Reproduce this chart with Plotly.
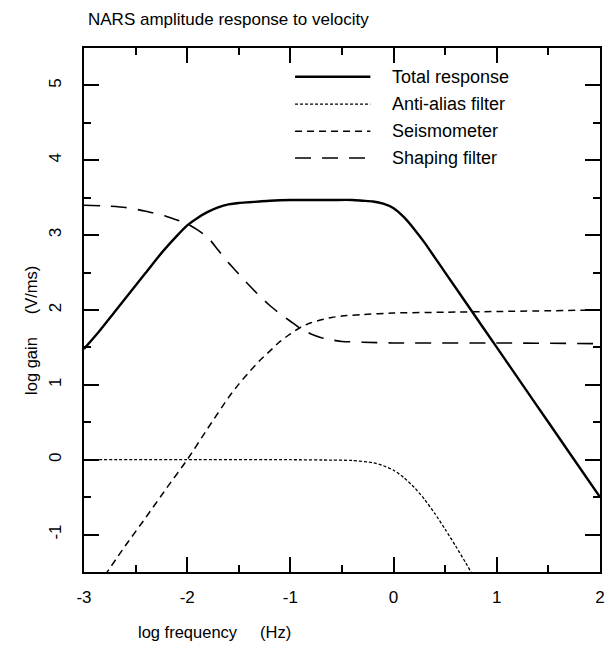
import plotly.graph_objects as go

# ---- data ----
x_total = [-3.0, -2.85, -2.7, -2.55, -2.4, -2.25, -2.1, -2.0, -1.9, -1.8, -1.7, -1.6, -1.5,
           -1.4, -1.3, -1.2, -1.0, -0.8, -0.6, -0.4, -0.3, -0.2, -0.1, 0.0, 0.1, 0.2, 0.3,
           0.4, 0.5, 0.75, 1.0, 1.25, 1.5, 1.75, 2.0]
y_total = [1.48, 1.72, 1.98, 2.24, 2.50, 2.76, 2.99, 3.13, 3.23, 3.31, 3.37, 3.41, 3.43,
           3.44, 3.45, 3.46, 3.47, 3.47, 3.47, 3.47, 3.46, 3.45, 3.42, 3.36, 3.24, 3.08, 2.90,
           2.70, 2.50, 2.00, 1.50, 1.00, 0.50, 0.00, -0.50]

x_alias = [-3.0, -2.0, -1.0, -0.6, -0.4, -0.2, -0.1, 0.0, 0.1, 0.2, 0.3, 0.4, 0.5, 0.6, 0.7, 0.8]
y_alias = [0.0, 0.0, 0.0, -0.005, -0.01, -0.04, -0.08, -0.14, -0.24, -0.37, -0.53, -0.72,
           -0.93, -1.15, -1.38, -1.62]

x_seis = [-2.8, -2.6, -2.4, -2.2, -2.0, -1.8, -1.6, -1.5, -1.4, -1.3, -1.2, -1.1, -1.0,
          -0.9, -0.8, -0.7, -0.6, -0.5, -0.3, 0.0, 0.5, 1.0, 2.0]
y_seis = [-1.55, -1.15, -0.77, -0.38, 0.0, 0.42, 0.83, 1.01, 1.17, 1.32, 1.45, 1.58, 1.68,
          1.77, 1.83, 1.87, 1.90, 1.92, 1.94, 1.96, 1.97, 1.98, 2.0]

x_shape = [-3.0, -2.8, -2.6, -2.4, -2.2, -2.0, -1.9, -1.8, -1.7, -1.6, -1.5, -1.4, -1.3,
           -1.2, -1.1, -1.0, -0.9, -0.8, -0.7, -0.6, -0.5, -0.3, 0.0, 1.0, 2.0]
y_shape = [3.40, 3.39, 3.37, 3.32, 3.25, 3.15, 3.07, 2.97, 2.80, 2.63, 2.48, 2.33, 2.19,
           2.06, 1.95, 1.85, 1.75, 1.68, 1.63, 1.60, 1.58, 1.57, 1.56, 1.56, 1.55]

series_names = ["Total response", "Anti-alias filter", "Seismometer", "Shaping filter"]
x_ticks = [-3, -2, -1, 0, 1, 2]
y_ticks = [-1, 0, 1, 2, 3, 4, 5]

FONT = "Liberation Sans, Arial, Helvetica, sans-serif"
styles = [
    dict(width=2.4, dash="solid"),
    dict(width=1.3, dash="3px,2px"),
    dict(width=1.5, dash="7px,5px"),
    dict(width=1.6, dash="16px,11px"),
]

fig = go.Figure()
for xs, ys, name, st in zip([x_total, x_alias, x_seis, x_shape],
                            [y_total, y_alias, y_seis, y_shape], series_names, styles):
    fig.add_trace(go.Scatter(x=xs, y=ys, mode="lines", name=name,
                             line=dict(color="black", shape="spline", smoothing=0.6, **st),
                             showlegend=False))

# manual legend (long line samples like the reference)
leg_y = [0.945, 0.893, 0.841, 0.790]
for name, st, yy in zip(series_names, styles, leg_y):
    fig.add_shape(type="line", xref="paper", yref="paper", x0=0.409, x1=0.555, y0=yy, y1=yy,
                  line=dict(color="black", **st))
    fig.add_annotation(xref="paper", yref="paper", x=0.593, y=yy, text=name, showarrow=False,
                       xanchor="left", yanchor="middle", font=dict(family=FONT, size=18, color="black"))

axis_common = dict(
    showgrid=False, zeroline=False, showline=True, linecolor="black", linewidth=2,
    mirror="allticks", ticks="inside", ticklen=15, tickwidth=2, tickcolor="black",
    tickfont=dict(family=FONT, size=17, color="black"),
    minor=dict(dtick=0.5, ticks="inside", ticklen=7, tickwidth=2, tickcolor="black"),
)

fig.update_xaxes(range=[-3, 2], tickvals=x_ticks, ticktext=[str(v) for v in x_ticks],
                 ticklabelstandoff=9, **axis_common)
fig.update_yaxes(range=[-1.5, 5.5], tickvals=y_ticks, ticktext=[str(v) for v in y_ticks],
                 tickangle=-90, ticklabelstandoff=14, **axis_common)

fig.add_annotation(xref="paper", yref="paper", x=0.004, y=1.0, yshift=17,
                   text="NARS amplitude response to velocity", showarrow=False,
                   xanchor="left", yanchor="bottom", font=dict(family=FONT, size=17, color="black"))
fig.add_annotation(xref="paper", yref="paper", x=0.252, y=0, yshift=-49,
                   text="log frequency &nbsp; &nbsp; (Hz)", showarrow=False,
                   xanchor="center", yanchor="top", font=dict(family=FONT, size=16.5, color="black"))
fig.add_annotation(xref="paper", yref="paper", x=0, xshift=-53, y=0.46,
                   text="log gain &nbsp; &nbsp; (V/ms)", showarrow=False, textangle=-90,
                   xanchor="center", yanchor="middle", font=dict(family=FONT, size=16.5, color="black"))

fig.update_layout(
    width=613, height=652,
    margin=dict(l=84, r=8, t=48, b=80),
    paper_bgcolor="white", plot_bgcolor="white",
    font=dict(family=FONT, size=16, color="black"),
)

fig.write_html("out.html")
